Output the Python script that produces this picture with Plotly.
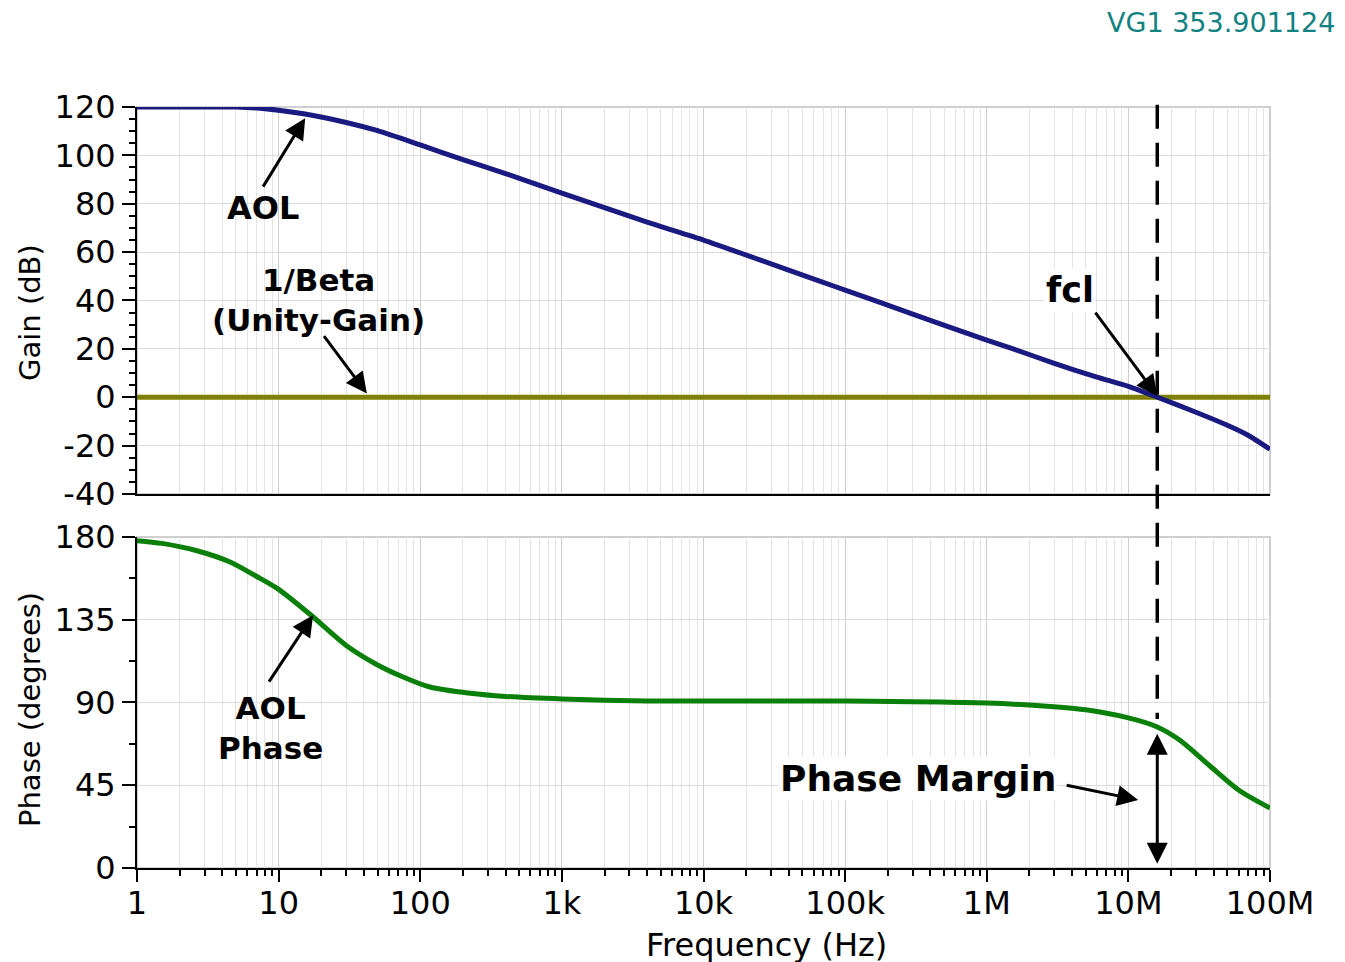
import plotly.graph_objects as go
import math

# ---------------- data ----------------
freq_gain = [1, 2, 5, 8, 15, 30, 50, 100, 200, 400, 1e3, 4e3, 1e4, 2.5e4, 7e4,
             1e5, 3e5, 1e6, 1.5e6, 3e6, 6e6, 1e7, 1.6e7, 3e7, 5e7, 7e7, 1e8]
gain_db = [120, 120, 120, 119.3, 117.2, 113.6, 110.2, 104.3, 98.2, 92.5, 84.4, 72.4,
           65, 56.8, 47.5, 44.3, 34.4, 23.6, 20.2, 14, 8.3, 4.5, 0, -6.2, -11.6, -15.7, -21.5]

freq_beta = [1, 1e8]
beta_db = [0, 0]

freq_phase = [1, 1.5, 2.65, 4.5, 7, 10, 17.2, 30, 50, 75, 117, 225, 400, 1e3, 4e3,
              1e5, 1e6, 2.5e6, 5e6, 1e7, 1.6e7, 2.3e7, 3.7e7, 6e7, 1e8]
phase_deg = [178, 176.5, 172.5, 166.5, 158.5, 151.5, 137, 121, 110.4, 104, 98.4, 95, 93.3,
             91.9, 90.8, 90.8, 89.7, 88.1, 86, 81.6, 76.7, 69.6, 56, 42.4, 32.6]

fcl = 1.6e7
phase_at_fcl = 73

x_tickvals = [1, 10, 100, 1e3, 1e4, 1e5, 1e6, 1e7, 1e8]
x_ticktext = ["1", "10", "100", "1k", "10k", "100k", "1M", "10M", "100M"]
gain_ticks = [120, 100, 80, 60, 40, 20, 0, -20, -40]
gain_ticktext = ["120", "100", "80", "60", "40", "20", "0", "-20", "-40"]
phase_ticks = [180, 135, 90, 45, 0]

minor_vals = [m * 10 ** d for d in range(8) for m in range(2, 10)]

FONT = "DejaVu Sans, Verdana, sans-serif"
BLUE = "#1a1a80"
OLIVE = "#808000"
GREEN = "#0a800a"

# plot-area geometry (page pixels; the page body has an 8px offset)
L, T, W, H = 137, 107, 1133, 761
OFF = 8

fig = go.Figure()
fig.add_trace(go.Scatter(x=freq_beta, y=beta_db, mode="lines",
                         line=dict(color=OLIVE, width=5), xaxis="x", yaxis="y",
                         showlegend=False, hoverinfo="skip"))
fig.add_trace(go.Scatter(x=freq_gain, y=gain_db, mode="lines",
                         line=dict(color=BLUE, width=5, shape="spline", smoothing=0.6),
                         xaxis="x", yaxis="y", showlegend=False))
fig.add_trace(go.Scatter(x=freq_phase, y=phase_deg, mode="lines",
                         line=dict(color=GREEN, width=5, shape="spline", smoothing=0.8),
                         xaxis="x2", yaxis="y2", showlegend=False))

xcommon = dict(type="log", range=[0, 8], tickmode="array", tickvals=x_tickvals,
               ticktext=x_ticktext, showgrid=True, gridcolor="#cfcfcf", gridwidth=1,
               showline=True, linecolor="black", linewidth=2, zeroline=False)

fig.update_layout(
    width=1345, height=962,
    margin=dict(l=L - OFF, r=1345 - (L - OFF) - W, t=T - OFF, b=962 - (T - OFF) - H),
    plot_bgcolor="white", paper_bgcolor="white",
    font=dict(family=FONT, size=32, color="black"),
    xaxis=dict(**xcommon, domain=[0, 1], anchor="y", showticklabels=False, ticks="",
               minor=dict(tickmode="array", tickvals=minor_vals, showgrid=True,
                          gridcolor="#e4e4e4", gridwidth=1)),
    xaxis2=dict(**xcommon, domain=[0, 1], anchor="y2", matches="x",
                ticks="outside", ticklen=12, tickwidth=2, tickcolor="black",
                ticklabelstandoff=-6,
                minor=dict(tickmode="array", tickvals=minor_vals, showgrid=True,
                           gridcolor="#e4e4e4", gridwidth=1, ticks="outside",
                           ticklen=6, tickcolor="black", tickwidth=1.5)),
    yaxis=dict(domain=[0.4915, 1], range=[-40, 120], tickmode="array",
               tickvals=gain_ticks, ticktext=gain_ticktext,
               showgrid=True, gridcolor="#dcdcdc", zeroline=False,
               showline=True, linecolor="black", linewidth=2,
               ticks="outside", ticklen=13, tickwidth=2, tickcolor="black",
               minor=dict(dtick=5, ticks="outside", ticklen=6, tickcolor="black",
                          tickwidth=1.5, showgrid=False)),
    yaxis2=dict(domain=[0, 0.435], range=[0, 180], tickvals=phase_ticks,
                showgrid=True, gridcolor="#dcdcdc", zeroline=False,
                showline=True, linecolor="black", linewidth=2,
                ticks="outside", ticklen=13, tickwidth=2, tickcolor="black",
                minor=dict(dtick=22.5, ticks="outside", ticklen=6, tickcolor="black",
                           tickwidth=1.5, showgrid=False)),
)

# gray frame (top/right) for each plot
for xr, yr in (("x domain", "y domain"), ("x2 domain", "y2 domain")):
    fig.add_shape(type="rect", xref=xr, yref=yr, x0=0, x1=1, y0=0, y1=1,
                  line=dict(color="#c0c0c0", width=1.5), layer="below")

# dashed line at fcl (shapes on log axes take data values)
fig.add_shape(type="line", xref="x", yref="paper",
              x0=fcl, x1=fcl, y0=1.003, y1=(phase_at_fcl + 8) / 180 * 0.435,
              line=dict(color="black", width=3.5, dash="24px,14px"))


def arrow(xv, yv, xref, yref, ax, ay, both=False, axref=None, ayref=None):
    d = dict(x=xv, y=yv, xref=xref, yref=yref, ax=ax, ay=ay, text="",
             showarrow=True, arrowhead=2, arrowsize=1.4, arrowwidth=3,
             arrowcolor="black")
    if both:
        d.update(arrowside="end+start", startarrowhead=2, startarrowsize=1.4)
    if axref:
        d.update(axref=axref, ayref=ayref)
    fig.add_annotation(**d)


def px(xpx, ypx):
    return (xpx - L) / W, 1 - (ypx - T) / H


def label(text, xpx, ypx, size=31, bg=None, angle=0, color="black", xanchor="center"):
    x, y = px(xpx, ypx)
    fig.add_annotation(x=x, y=y, xref="paper", yref="paper", text=text, showarrow=False,
                       font=dict(family=FONT, size=size, color=color),
                       xanchor=xanchor, yanchor="middle", textangle=angle,
                       bgcolor=bg if bg else "rgba(0,0,0,0)")


# AOL
arrow(math.log10(15.4), 115.4, "x", "y", -43, 70)
label("<b>AOL</b>", 263, 208, size=32)
# 1/Beta
arrow(math.log10(42), 1.5, "x", "y", -44, -59)
label("<b>1/Beta</b><br><b>(Unity-Gain)</b>", 318, 300)
# fcl
arrow(math.log10(fcl), 0.5, "x", "y", -63, -85)
label("<b>fcl</b>", 1070, 290, size=35, bg="white")
# AOL phase
arrow(math.log10(17.5), 137.5, "x2", "y2", -45, 68)
label("<b>AOL</b><br><b>Phase</b>", 270, 728)
# Phase Margin
arrow(7.069, 37, "x2", "y2", -73, -15)
label("<b>Phase Margin</b>", 918, 778, size=36, bg="white")
# double arrow
arrow(math.log10(fcl), phase_at_fcl, "x2", "y2", math.log10(fcl), 1.5,
      both=True, axref="x2", ayref="y2")

# axis titles
label("Gain (dB)", 30, 313, size=29, angle=-90)
label("Phase (degrees)", 30, 710, size=29, angle=-90)
label("Frequency (Hz)", 767, 945, size=32)
# top-right label
label("VG1 353.901124m", 1105, 22, size=27, color="#128282", xanchor="left")

fig.write_html("out.html")
